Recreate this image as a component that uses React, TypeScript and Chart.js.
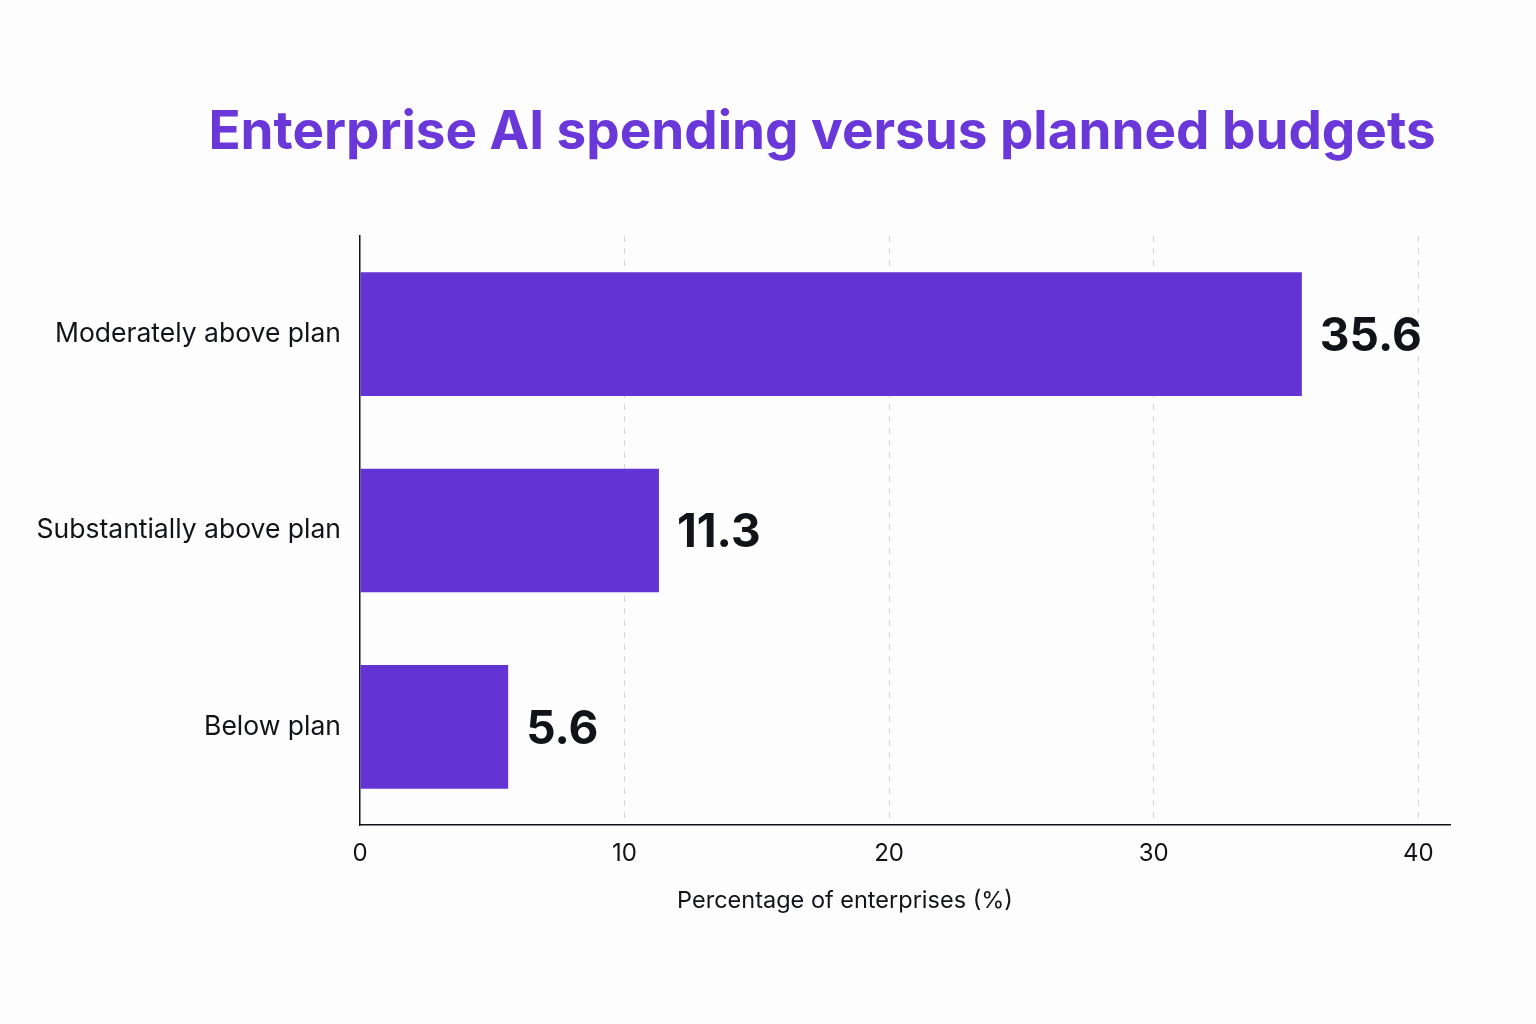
import React, { useRef, useEffect } from 'react';
import { Chart, registerables } from 'chart.js';

Chart.register(...registerables);

const TITLE = 'Enterprise AI spending versus planned budgets';
const CATEGORIES = ['Moderately above plan', 'Substantially above plan', 'Below plan'];
const VALUES = [35.6, 11.3, 5.6];
const X_TICKS = [0, 10, 20, 30, 40];
const X_TITLE = 'Percentage of enterprises (%)';

const PURPLE = '#6433d3';
const INK = '#111318';
const FONT = "Inter, 'Noto Sans', sans-serif";

// title, x-axis title and value labels drawn straight onto the canvas
const overlay = {
  id: 'overlay',
  beforeDraw(chart: any) {
    const { ctx, width, height } = chart;
    ctx.save();
    ctx.fillStyle = '#fdfdfe';
    ctx.fillRect(0, 0, width, height);
    ctx.restore();
  },
  afterDatasetsDraw(chart: any) {
    const { ctx } = chart;
    ctx.save();
    ctx.textBaseline = 'middle';

    ctx.fillStyle = '#6a37d8';
    ctx.font = `bold 53px ${FONT}`;
    ctx.textAlign = 'center';
    ctx.fillText(TITLE, 822, 133);

    ctx.fillStyle = INK;
    ctx.font = `23.5px ${FONT}`;
    ctx.fillText(X_TITLE, 845, 901);

    const meta = chart.getDatasetMeta(0);
    ctx.font = `bold 46px ${FONT}`;
    ctx.textAlign = 'left';
    meta.data.forEach((bar: any, i: number) => {
      ctx.fillText(VALUES[i].toFixed(1), bar.x + 18, bar.y + 3);
    });
    ctx.restore();
  },
};

const BarChart: React.FC = () => {
  const ref = useRef<HTMLCanvasElement>(null);

  useEffect(() => {
    if (!ref.current) return;
    const chart = new Chart(ref.current, {
      type: 'bar',
      data: {
        labels: CATEGORIES,
        datasets: [{
          data: VALUES,
          backgroundColor: PURPLE,
          borderWidth: 0,
          barPercentage: 0.63,
          categoryPercentage: 1,
        }],
      },
      options: {
        indexAxis: 'y',
        animation: false,
        responsive: false,
        layout: { padding: { top: 236, right: 86, bottom: 89, left: 0 } },
        plugins: {
          legend: { display: false },
          tooltip: { enabled: false },
          title: { display: false },
        },
        scales: {
          x: {
            min: 0,
            max: 41.2,
            afterBuildTicks: (s: any) => { s.ticks = X_TICKS.map((v) => ({ value: v })); },
            afterFit: (s: any) => { s.height = 110; },
            grid: {
              color: (c: any) => (c.tick && c.tick.value === 0 ? 'rgba(0,0,0,0)' : '#d6d6da'),
              lineWidth: 1,
              drawTicks: false,
            },
            border: { display: true, color: INK, width: 1.5, dash: [6, 6] },
            ticks: { color: INK, font: { family: FONT, size: 24 }, padding: 14 },
            title: { display: false },
          },
          y: {
            afterFit: (s: any) => { s.width = 360; },
            grid: { display: false, drawTicks: false },
            border: { display: true, color: INK, width: 1.5 },
            ticks: { color: INK, font: { family: FONT, size: 26.5 }, padding: 19 },
          },
        },
      } as any,
      plugins: [overlay],
    });
    return () => chart.destroy();
  }, []);

  return <canvas ref={ref} width={1536} height={1024} style={{ display: 'block' }} />;
};

export default function App() {
  return (
    <div style={{ position: 'fixed', left: 0, top: 0, width: 1536, height: 1024, background: '#fdfdfe' }}>
      <BarChart />
    </div>
  );
}
